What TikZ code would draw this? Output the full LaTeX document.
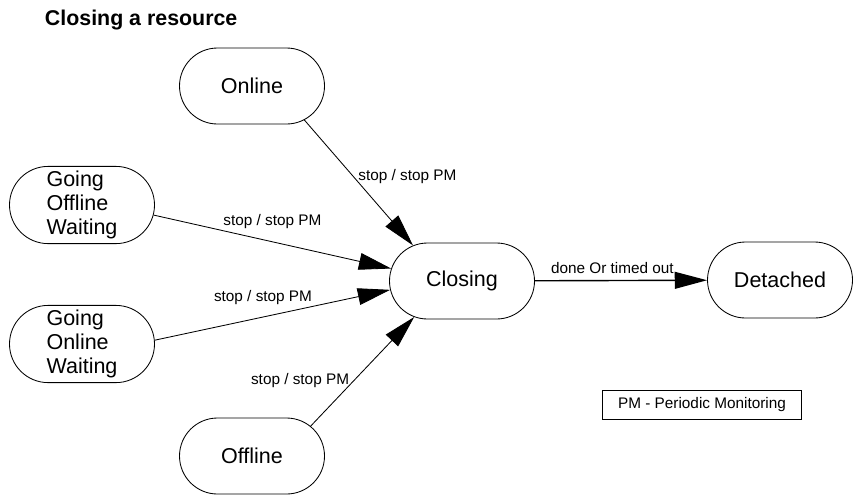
\documentclass[tikz,border=0pt]{standalone}
\usepackage{fontspec}
\setmainfont{Liberation Sans}
\usetikzlibrary{arrows.meta,shapes.misc}

\begin{document}
\begin{tikzpicture}[
  state/.style={draw, line width=0.6pt, rounded rectangle, minimum width=3.625cm, minimum height=1.9cm, inner xsep=0pt, align=left, font=\fontsize{15.3}{17}\selectfont},
  legend/.style={draw, line width=1.3pt, minimum width=4.975cm, minimum height=0.725cm, font=\fontsize{10.9}{13}\selectfont},
  arr/.style={-{Triangle[length=23pt,width=12pt]}, line width=0.6pt},
  trans/.style={font=\fontsize{10.9}{13}\selectfont}
]
\useasboundingbox (0,0) rectangle (21.45,-12.375);

% Title
\node[anchor=west, font=\bfseries\fontsize{15.2}{17}\selectfont] (title) at (1.0,-0.5) {Closing a resource};

% States on the left
\node[state] (online)  at (6.3,-2.15)   {Online};
\node[state] (goofw)   at (2.05,-5.125) {Going\\Offline\\Waiting};
\node[state] (goonw)   at (2.05,-8.6)   {Going\\Online\\Waiting};
\node[state] (offline) at (6.3,-11.4)   {Offline};

% Closing and result
\node[state] (closing)  at (11.55,-7.025) {Closing};
\node[state] (detached) at (19.5,-7.0)    {Detached};

% Legend
\node[legend] (pm) at (17.55,-10.125) {PM - Periodic Monitoring};

% Transitions
\draw[arr] (online.-33) -- node[trans, right, pos=0.45] {stop / stop PM} (closing.144);
\draw[arr] (goofw.-8) -- node[trans, above=6pt, pos=0.5] {stop / stop PM} (closing.170);
\draw[arr] (goonw.3) -- node[trans, above=5pt, pos=0.46] {stop / stop PM} (closing.-173);
\draw[arr] (offline.27) -- node[trans, left, pos=0.42] {stop / stop PM} (closing.-143);
\draw[arr, line width=1pt] (closing) -- node[trans, above=1pt, pos=0.45] {done Or timed out} (detached);
\end{tikzpicture}
\end{document}
